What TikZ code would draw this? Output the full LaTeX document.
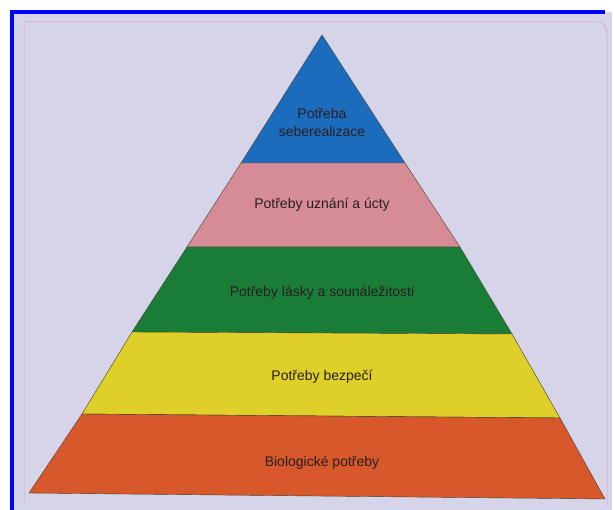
\documentclass[tikz,border=0pt]{standalone}
\usepackage{fontspec}
\setmainfont{Liberation Sans}

\definecolor{paper}{RGB}{214,212,232}
\definecolor{frameblue}{RGB}{0,0,255}
\definecolor{edgepink}{RGB}{225,160,175}
\definecolor{selfblue}{RGB}{28,108,190}
\definecolor{esteempink}{RGB}{214,140,150}
\definecolor{lovegreen}{RGB}{25,125,55}
\definecolor{safeyellow}{RGB}{222,208,40}
\definecolor{bioorange}{RGB}{215,88,42}
\definecolor{inktext}{RGB}{40,30,35}

\begin{document}
\begin{tikzpicture}[
      x=1pt, y=-1pt,
      tier/.style={draw=black!70!olive, line width=0.4pt},
      tiertext/.style={font=\fontsize{14}{18}\selectfont, text=inktext, align=center},
    ]
    \useasboundingbox (0,0) rectangle (614,510);

    % Page of the book with the blue frame
    \fill[white] (0,0) rectangle (614,510);
    \fill[paper] (12,12) rectangle (612,510);
    \draw[edgepink, line width=0.5pt] (24,505) -- (24,22) -- (598,22)
      .. controls (604,22) and (606,26) .. (607,34) -- (607,505);
    \fill[frameblue] (10,10) rectangle (605,14);
    \fill[frameblue] (10,10) rectangle (14,510);

    % Corners of the tiers
    \coordinate (top) at (322,35);
    \coordinate (l1) at (241,163);
    \coordinate (r1) at (405,163);
    \coordinate (l2) at (187,247);
    \coordinate (r2) at (460,247);
    \coordinate (l3) at (132,332);
    \coordinate (r3) at (512,334);
    \coordinate (l4) at (82,414);
    \coordinate (r4) at (560,418);
    \coordinate (l5) at (29,493);
    \coordinate (r5) at (605,499);

    % Tiers of the pyramid
    \filldraw[tier, fill=selfblue] (top) -- (r1) -- (l1) -- cycle;
    \filldraw[tier, fill=esteempink] (l1) -- (r1) -- (r2) -- (l2) -- cycle;
    \filldraw[tier, fill=lovegreen] (l2) -- (r2) -- (r3) -- (l3) -- cycle;
    \filldraw[tier, fill=safeyellow] (l3) -- (r3) -- (r4) -- (l4) -- cycle;
    \filldraw[tier, fill=bioorange] (l4) -- (r4) -- (r5) -- (l5) -- cycle;

    % Labels
    \node[tiertext] (self) at (322,122) {Potřeba\\seberealizace};
    \node[tiertext] (esteem) at (322,205) {Potřeby uznání a úcty};
    \node[tiertext] (love) at (322,293) {Potřeby lásky a sounáležitosti};
    \node[tiertext] (safety) at (322,377) {Potřeby bezpečí};
    \node[tiertext] (bio) at (322,463) {Biologické potřeby};
  \end{tikzpicture}
\end{document}
